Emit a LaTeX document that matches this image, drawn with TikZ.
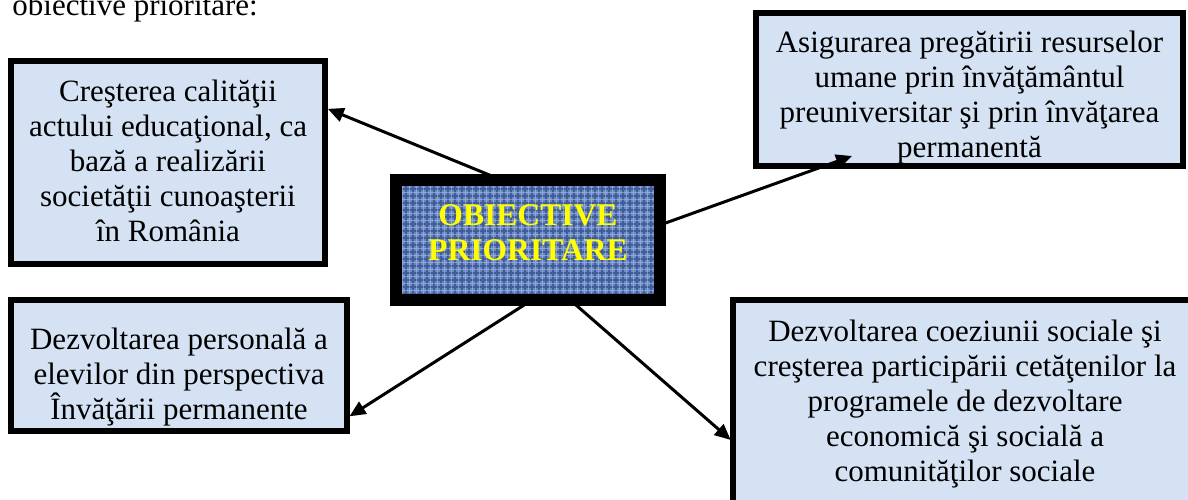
\documentclass[tikz,border=0pt]{standalone}
\usepackage{fontspec}
\setmainfont{Liberation Serif}
\usetikzlibrary{arrows.meta,calc}
\definecolor{paleblue}{RGB}{212,226,243}
\definecolor{denim}{RGB}{104,134,194}
\definecolor{denimdark}{RGB}{30,52,110}
\definecolor{denimlight}{RGB}{180,205,240}
\definecolor{titleyellow}{RGB}{255,255,0}
\begin{document}
\begin{tikzpicture}[x=0.5pt,y=-0.5pt,
  box/.style={fill=paleblue, inner sep=0pt, outer sep=0pt, draw=none},
  border/.style={draw=black, line width=3pt},
  cborder/.style={draw=black, line width=6pt},
  txt/.style={align=center, font=\fontsize{15.5}{17.5}\selectfont, inner sep=0pt},
  ctxt/.style={align=center, font=\fontsize{15.8}{17.5}\selectfont\bfseries, text=titleyellow, inner sep=0pt},
  arr/.style={line width=1.5pt, -{Triangle[length=8pt,width=7pt]}}
]
\useasboundingbox (0,0) rectangle (1188,499);
\clip (0,0) rectangle (1188,499);

% heading (cut at top, as in the reference)
\node[txt, anchor=base west] (title) at (12,15) {obiective prioritare:};

% boxes (fill)
\node[box, minimum width=157pt, minimum height=101.5pt] (b1) at (168,162.5) {};
\node[box, minimum width=213.5pt, minimum height=76.5pt] (b2) at (969.5,89.5) {};
\node[box, minimum width=168pt, minimum height=65.5pt] (b3) at (179,365.5) {};
\node[box, minimum width=232pt, minimum height=108.5pt] (b4) at (965,408.5) {};
\node[box, fill=denim, minimum width=132pt, minimum height=60pt] (cb) at (528,240) {};

% denim texture
\begin{scope}
  \clip (cb.south west) rectangle (cb.north east);
  \draw[denimdark, line width=1pt, opacity=0.5, step=3.5pt] (cb.south west) grid (cb.north east);
  \draw[denimlight, line width=0.6pt, opacity=0.5, step=3.5pt, shift={(3.5,3.5)}] (cb.south west) grid (cb.north east);
\end{scope}

% texts
\node[txt] (t1) at (168,161) {Creşterea calităţii\\actului educaţional, ca\\bază a realizării\\societăţii cunoaşterii\\în România};
\node[txt] (t2) at (969.5,98) {Asigurarea pregătirii resurselor\\umane prin învăţământul\\preuniversitar şi prin învăţarea\\permanentă};
\node[txt] (t3) at (179,377) {Dezvoltarea personală a\\elevilor din perspectiva\\Învăţării permanente};
\node[txt] (t4) at (965,404) {Dezvoltarea coeziunii sociale şi\\creşterea participării cetăţenilor la\\programele de dezvoltare\\economică şi socială a\\comunităţilor sociale};
\node[ctxt] (ct) at (528,233) {OBIECTIVE\\PRIORITARE};

% borders
\draw[border] (b1.south west) rectangle (b1.north east);
\draw[border] (b2.south west) rectangle (b2.north east);
\draw[border] (b3.south west) rectangle (b3.north east);
\draw[border] (b4.south west) rectangle (b4.north east);
\draw[cborder] (cb.south west) rectangle (cb.north east);

% connectors
\coordinate (a2end) at ($(b2.south west)!0.225!(b2.south east)+(0,-10)$);
\draw[arr, shorten >=1.5pt] ($(cb.north west)!0.40!(cb.north east)$) -- ($(b1.north east)!0.23!(b1.south east)$);
\draw[arr] ($(cb.north east)!0.375!(cb.south east)$) -- (a2end);
\draw[arr, shorten >=1.5pt] ($(cb.south west)!0.515!(cb.south east)$) -- ($(b3.north east)!0.90!(b3.south east)$);
\draw[arr, shorten >=1.5pt] ($(cb.south west)!0.66!(cb.south east)$) -- ($(b4.north west)!0.654!(b4.south west)$);
\end{tikzpicture}
\end{document}
